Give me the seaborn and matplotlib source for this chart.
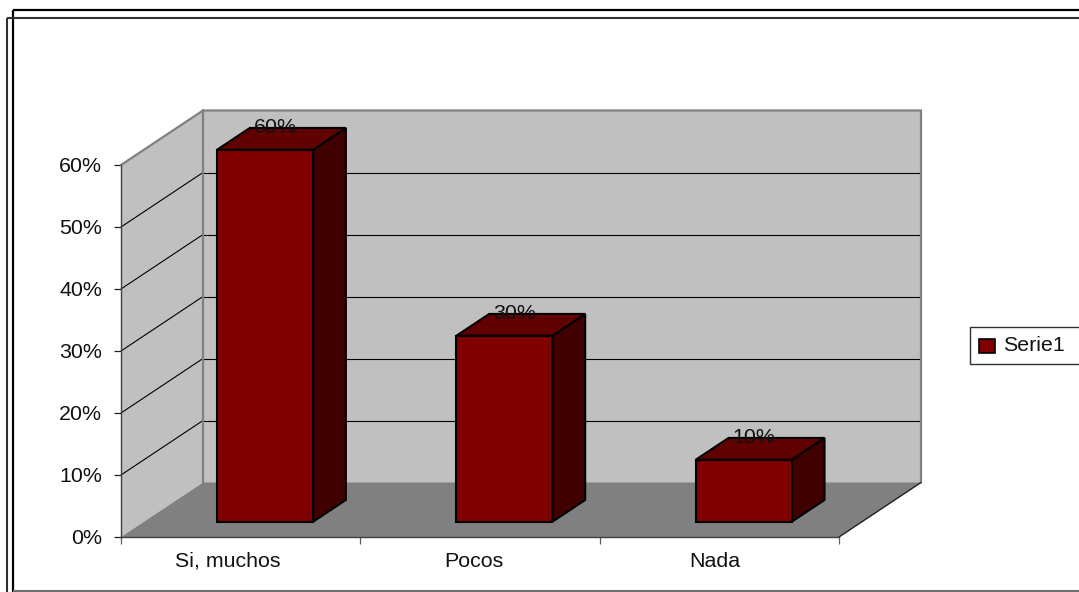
import matplotlib
matplotlib.use("Agg")
import matplotlib.pyplot as plt
from matplotlib.lines import Line2D
from matplotlib.patches import Patch, Polygon
import pandas as pd
import seaborn as sns

categories = ["Si, muchos", "Pocos", "Nada"]
values = [60, 30, 10]
value_labels = ["60%", "30%", "10%"]
y_ticks = [0, 10, 20, 30, 40, 50, 60]
series_name = "Serie1"

W, H = 1079, 592
FS = 15.4
sns.set_theme(style="white")
plt.rcParams["font.family"] = ["Liberation Sans", "DejaVu Sans"]
plt.rcParams["font.size"] = FS

FRONT, TOP_C, SIDE = "#800000", "#600000", "#400000"
WALL, FLOOR, EDGE = "#c0c0c0", "#808080", "#808080"

# oblique projection: depth 1 = back of the chart box
DX = 82 / (718 / 3)      # categories per unit of depth
DY = 54.5 / 6.2          # percent per unit of depth
BAR_WIDTH = 96 / (718 / 3)
D0, D1 = 0.28, 0.68      # bar front / back depth
XMIN, XMAX, YMAX = -0.5, 2.5, 60


def proj(x, y, d=0.0):
    return (x + d * DX, y + d * DY)


fig = plt.figure(figsize=(W / 100, H / 100), dpi=100, facecolor="white")
ax = fig.add_axes([121 / W, 1 - 537 / H, 718 / W, 372 / H])
df = pd.DataFrame({"categoria": categories, "valor": values})
sns.barplot(data=df, x="categoria", y="valor", color=FRONT, saturation=1,
            width=BAR_WIDTH, ax=ax, zorder=3, edgecolor="black", linewidth=1.5)
bars = list(ax.patches)
ax.set_xlim(XMIN, XMAX)
ax.set_ylim(0, YMAX)
ax.patch.set_visible(False)
ax.set_xlabel("")
ax.set_ylabel("")


def poly(points, face, edge="none", lw=0.0, z=1.0):
    ax.add_patch(Polygon(points, closed=True, facecolor=face, edgecolor=edge,
                         linewidth=lw, zorder=z, clip_on=False, joinstyle="miter"))


# walls and floor
poly([proj(XMIN, 0), proj(XMIN, YMAX), proj(XMIN, YMAX, 1), proj(XMIN, 0, 1)], WALL, z=0.5)
poly([proj(XMIN, 0, 1), proj(XMIN, YMAX, 1), proj(XMAX, YMAX, 1), proj(XMAX, 0, 1)], WALL, z=0.5)
poly([proj(XMIN, 0), proj(XMIN, 0, 1), proj(XMAX, 0, 1), proj(XMAX, 0)], FLOOR, z=0.6)

# gridlines on both walls
for v in y_ticks[1:-1]:
    xs, ys = zip(proj(XMIN, v), proj(XMIN, v, 1))
    ax.plot(xs, ys, color="black", lw=0.8, zorder=0.8, clip_on=False)
    xs, ys = zip(proj(XMIN, v, 1), proj(XMAX, v, 1))
    ax.plot(xs, ys, color="black", lw=0.8, zorder=0.8, clip_on=False)

# wall outlines
xs, ys = zip(proj(XMIN, YMAX), proj(XMIN, YMAX, 1), proj(XMAX, YMAX, 1), proj(XMAX, 0, 1))
ax.plot(xs, ys, color=EDGE, lw=1.6, zorder=0.9, clip_on=False, solid_joinstyle="miter")
xs, ys = zip(proj(XMIN, YMAX, 1), proj(XMIN, 0, 1))
ax.plot(xs, ys, color=EDGE, lw=1.6, zorder=0.9, clip_on=False)
xs, ys = zip(proj(XMAX, 0), proj(XMAX, 0, 1))
ax.plot(xs, ys, color="#202020", lw=1.0, zorder=0.9, clip_on=False)

# extrude seaborn's bars into boxes
for bar, v, lab in zip(bars, values, value_labels):
    bar.set_x(bar.get_x() + D0 * DX + 0.006)
    bar.set_y(D0 * DY)
    bar.set_clip_on(False)
    x0, x1 = bar.get_x(), bar.get_x() + bar.get_width()
    y0 = D0 * DY
    y1 = y0 + v
    dd = D1 - D0
    poly([(x1, y0), (x1, y1), proj(x1, y1, dd), proj(x1, y0, dd)], SIDE, "black", 1.5, 2.0)
    poly([(x0, y1), (x1, y1), proj(x1, y1, dd), proj(x0, y1, dd)], TOP_C, "black", 1.5, 2.0)
    ax.annotate(lab, xy=((x0 + x1) / 2, y1), xytext=(10, 22), textcoords="offset pixels",
                ha="center", va="center", color="#111111", zorder=5, annotation_clip=False)

# axes
for s in ("top", "right"):
    ax.spines[s].set_visible(False)
for s in ("left", "bottom"):
    ax.spines[s].set_color("#404040")
    ax.spines[s].set_linewidth(1.0)
    ax.spines[s].set_zorder(1.2)
ax.set_yticks(y_ticks)
ax.set_yticklabels([f"{v}%" for v in y_ticks])
ax.tick_params(axis="y", left=True, length=5, width=0.9, color="#202020", pad=8.5,
               labelsize=FS, labelcolor="#111111")

centers = [i for i in range(len(categories))]
label_shift = [-0.053, -0.024, -0.019]
ax.set_xticks([XMIN + i for i in range(len(categories) + 1)])
ax.set_xticklabels([])
ax.set_xticks([c + s for c, s in zip(centers, label_shift)], minor=True)
ax.set_xticklabels(categories, minor=True)
ax.tick_params(axis="x", which="major", bottom=True, length=5, width=0.9, color="#606060")
ax.tick_params(axis="x", which="minor", bottom=False, length=0, pad=10.5,
               labelsize=FS, labelcolor="#111111")

# legend
leg = fig.legend(handles=[Patch(facecolor=FRONT, edgecolor="black", linewidth=1.2, label=series_name)],
                 loc="center left", mode="expand",
                 bbox_to_anchor=(970.5 / W, 1 - 364 / H, 125 / W, 36.5 / H),
                 frameon=True, fancybox=False, framealpha=1, edgecolor="#303030",
                 fontsize=FS, handlelength=0.72, handleheight=0.62, handletextpad=0.38,
                 borderpad=0.42, borderaxespad=0, labelcolor="#111111")
leg.get_frame().set_linewidth(1.0)
for h in leg.get_patches():
    h.set_y(h.get_y() - 1.5)


# outer double frame (runs off the right edge of the picture)
def fline(x, y, color="black", lw=1.5):
    fig.add_artist(Line2D([a / W for a in x], [1 - b / H for b in y], color=color, lw=lw,
                          solid_capstyle="butt"))


fline([13, W], [10, 10], "black", 1.6)
fline([13, 13], [10, H], "black", 1.6)
fline([6.5, W], [18, 18], "#303030", 1.5)
fline([6.5, 6.5], [18, H], "#303030", 1.5)
fline([13, W], [591, 591], "#707070", 1.5)

fig.savefig("out.png", dpi=100, facecolor="white")
